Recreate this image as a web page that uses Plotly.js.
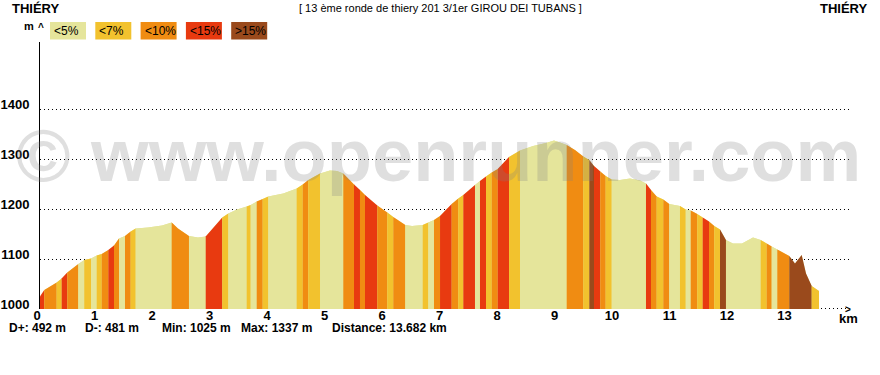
<!DOCTYPE html>
<html><head><meta charset="utf-8">
<script src="https://cdn.plot.ly/plotly-3.0.1.min.js"></script>
<style>html,body{margin:0;padding:0;background:#fff}#chart{width:880px;height:375px}</style>
</head><body><div id="chart"></div>
<script>
// ---- data ----
const gradeClasses = ['<5%', '<7%', '<10%', '<15%', '>15%'];
const gradeColors = ['#E5E59B', '#F2C22E', '#F08C12', '#E83A10', '#9A4A1C'];

const distKm = [0.000,0.075,0.290,0.377,0.475,0.666,0.770,0.887,0.986,1.073,
  1.188,1.287,1.374,1.478,1.577,1.664,1.878,2.122,2.290,2.400,
  2.591,2.748,2.882,3.026,3.170,3.275,3.426,3.595,3.664,3.769,
  3.873,3.970,4.231,4.464,4.569,4.666,4.870,5.043,5.165,5.275,
  5.461,5.565,5.652,5.866,6.040,6.144,6.353,6.470,6.656,6.753,
  6.852,6.957,7.160,7.275,7.362,7.565,7.652,7.757,7.856,7.960,
  8.157,8.348,8.574,8.800,8.939,9.043,9.160,9.304,9.449,9.553,
  9.635,9.744,9.838,9.943,10.087,10.261,10.435,10.539,10.626,10.725,
  10.840,10.944,11.130,11.230,11.317,11.431,11.525,11.635,11.727,11.826,
  11.930,12.052,12.209,12.400,12.534,12.638,12.725,12.823,13.031,13.130,
  13.247,13.322,13.421,13.548];

const elevM = [1025,1038,1053,1061,1073,1090,1098,1101,1107,1110,
  1118,1127,1141,1146,1155,1161,1163,1167,1173,1161,
  1146,1143,1145,1164,1183,1191,1199,1205,1208,1215,
  1220,1225,1231,1241,1249,1258,1271,1277,1276,1271,
  1249,1238,1228,1207,1193,1184,1168,1166,1168,1173,
  1178,1186,1210,1221,1228,1248,1256,1265,1273,1280,
  1304,1317,1326,1332,1337,1333,1328,1318,1305,1298,
  1286,1275,1266,1259,1258,1261,1257,1251,1238,1225,
  1219,1210,1206,1199,1197,1190,1183,1175,1166,1159,
  1138,1131,1131,1143,1138,1131,1125,1119,1106,1091,
  1108,1071,1046,1036];

// grade class index of each segment between consecutive points
const segClass = [3,2,1,3,2,0,1,0,1,2, 3,2,0,2,1,0,0,0,2,2, 0,0,3,3,1,0,0,1,0,2,
  1,0,0,1,2,1,0,0,0,2, 3,2,3,2,1,2,0,0,1,0, 2,3,2,1,3,0,3,1,2,3,
  1,0,0,0,0,0,2,2,1,4, 3,2,1,0,0,0,0,3,2,1, 2,0,1,0,2,1,3,2,1,4,
  0,0,0,0,1,2,0,2,4,4, 4,4,1];

const xTickVals = [0,1,2,3,4,5,6,7,8,9,10,11,12,13];
const xTickText = ['0','1','2','3','4','5','6','7','8','9','10','11','12','13'];
const yTickVals = [1000,1100,1200,1300,1400];
const yTickText = ['1000','1100','1200','1300','1400'];
const statTexts = ['D+: 492 m', 'D-: 481 m', 'Min: 1025 m', 'Max: 1337 m', 'Distance: 13.682 km'];
const titleLeft = 'THIÉRY';
const titleRight = 'THIÉRY';
const titleCenter = '[ 13 ème ronde de thiery 201 3/1er GIROU DEI TUBANS ]';
const watermark = '© www.openrunner.com';

// ---- layout geometry ----
const W = 880, H = 375, ML = 40, MR = 29, MT = 42, MB = 66;
const PW = W - ML - MR, PH = H - MT - MB;
const pxPerKm = 57.5, pxPerM = 0.5;
const yMin = 1000;
const px = x => (x - ML) / PW;
const py = y => (H - MB - y) / PH;
const FONT = 'Liberation Sans, Arial, sans-serif';

// ---- traces ----
const traces = [{
  x: distKm, y: elevM, type: 'scatter', mode: 'none', fill: 'tozeroy',
  fillcolor: gradeColors[0], hoverinfo: 'skip', showlegend: false
}];
let i = 0;
while (i < segClass.length) {
  let j = i;
  while (j + 1 < segClass.length && segClass[j + 1] === segClass[i]) j++;
  traces.push({
    x: distKm.slice(i, j + 2), y: elevM.slice(i, j + 2),
    type: 'scatter', mode: 'none', fill: 'tozeroy',
    fillcolor: gradeColors[segClass[i]], hoverinfo: 'skip', showlegend: false,
    name: gradeClasses[segClass[i]]
  });
  i = j + 1;
}

// ---- annotations & shapes ----
const ann = [];
const shapes = [];
ann.push({text: titleLeft, x: px(10), y: py(9), xref: 'paper', yref: 'paper', xanchor: 'left', yanchor: 'middle', showarrow: false,
  font: {family: FONT, size: 13, weight: 'bold', color: '#000'}});
ann.push({text: titleRight, x: px(870), y: py(9), xref: 'paper', yref: 'paper', xanchor: 'right', yanchor: 'middle', showarrow: false,
  font: {family: FONT, size: 13, weight: 'bold', color: '#000'}});
ann.push({text: titleCenter, x: px(440), y: py(8), xref: 'paper', yref: 'paper', xanchor: 'center', yanchor: 'middle', showarrow: false,
  font: {family: FONT, size: 11, color: '#000'}});
ann.push({text: 'm', x: px(29), y: py(26), xref: 'paper', yref: 'paper', xanchor: 'center', yanchor: 'middle', showarrow: false,
  font: {family: FONT, size: 11, weight: 'bold', color: '#000'}});
ann.push({text: '^', x: px(40.5), y: py(27), xref: 'paper', yref: 'paper', xanchor: 'center', yanchor: 'middle', showarrow: false,
  font: {family: FONT, size: 10, weight: 'bold', color: '#000'}});
gradeClasses.forEach((g, k) => {
  const bx = 50 + k * 45.3;
  shapes.push({type: 'rect', xref: 'paper', yref: 'paper', x0: px(bx), x1: px(bx + 36), y0: py(39.5), y1: py(22),
    fillcolor: gradeColors[k], line: {width: 0}});
  ann.push({text: g, x: px(bx + 2), y: py(31), xref: 'paper', yref: 'paper', xanchor: 'left', yanchor: 'middle', showarrow: false,
    font: {family: FONT, size: 12, color: '#000'}});
});
// dotted continuation of the base line up to the arrow
shapes.push({type: 'line', xref: 'paper', yref: 'paper', x0: px(821), x1: px(846), y0: py(308.5), y1: py(308.5),
  line: {color: '#000', width: 1, dash: '1px,3px'}});
const statX = [7, 83, 160, 239, 330];
statTexts.forEach((s, k) => {
  ann.push({text: s, x: px(statX[k]), y: py(328), xref: 'paper', yref: 'paper', xanchor: 'left', yanchor: 'middle', showarrow: false,
    font: {family: FONT, size: 12, weight: 'bold', color: '#000'}});
});
ann.push({text: 'km', x: px(848), y: py(318), xref: 'paper', yref: 'paper', xanchor: 'center', yanchor: 'middle', showarrow: false,
  font: {family: FONT, size: 13, weight: 'bold', color: '#000'}});
ann.push({text: '>', x: px(848), y: py(309), xref: 'paper', yref: 'paper', xanchor: 'center', yanchor: 'middle', showarrow: false,
  font: {family: FONT, size: 10, weight: 'bold', color: '#000'}});
ann.push({text: watermark, x: px(438), y: py(155), xref: 'paper', yref: 'paper', xanchor: 'center', yanchor: 'middle', showarrow: false,
  font: {family: FONT, size: 74, weight: 'bold', color: 'rgba(128,128,128,0.25)'}});

const layout = {
  width: W, height: H,
  margin: {l: ML, r: MR, t: MT, b: MB, pad: 0},
  paper_bgcolor: '#fff', plot_bgcolor: '#fff',
  showlegend: false,
  xaxis: {range: [0, PW / pxPerKm], tickvals: xTickVals, ticktext: xTickText, ticks: '', showgrid: false,
    zeroline: false, showline: false, ticklabelshift: -3, ticklabelstandoff: -3,
    tickfont: {family: FONT, size: 13, weight: 'bold', color: '#000'}, fixedrange: true},
  yaxis: {range: [yMin, yMin + PH / pxPerM], tickvals: yTickVals, ticktext: yTickText, ticks: '',
    showgrid: true, gridcolor: '#000', gridwidth: 1, griddash: '1px,3px', zeroline: false,
    showline: true, linecolor: '#000', linewidth: 1, ticklabelstandoff: 7, ticklabelshift: -5,
    tickfont: {family: FONT, size: 13, weight: 'bold', color: '#000'}, fixedrange: true},
  annotations: ann,
  shapes: shapes
};
Plotly.newPlot('chart', traces, layout, {staticPlot: true, displayModeBar: false});
</script>
</body></html>
